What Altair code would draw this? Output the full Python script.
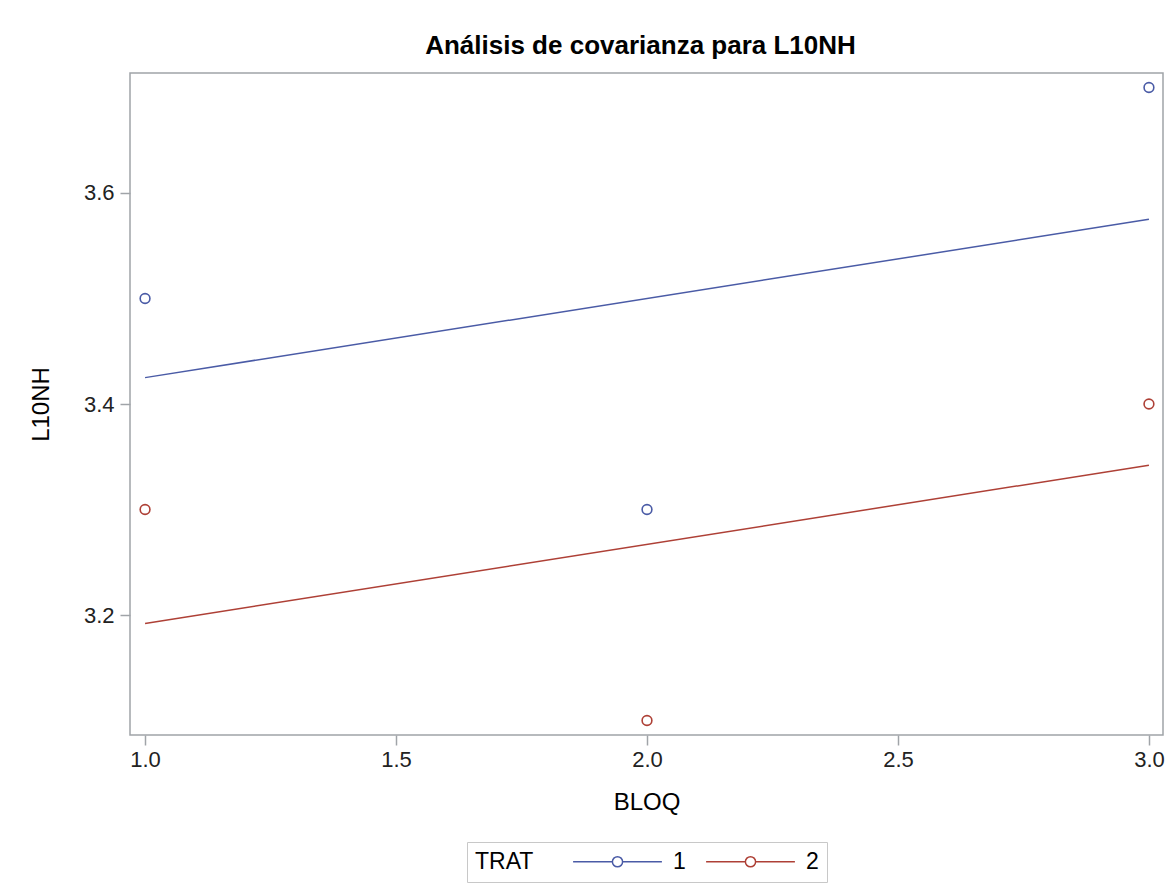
import altair as alt
import pandas as pd

# Observed values per block and treatment
bloq = [1, 2, 3]
trat_1 = [3.5, 3.3, 3.7]
trat_2 = [3.3, 3.1, 3.4]

# Fitted ANCOVA lines (common slope), evaluated at the block range ends
fit_bloq = [1, 3]
fit_1 = [3.425, 3.575]
fit_2 = [3.192, 3.342]

colors = ["#4A5BA6", "#AE4036"]
font = "Liberation Sans"

points = pd.DataFrame({
    "BLOQ": bloq * 2,
    "L10NH": trat_1 + trat_2,
    "TRAT": ["1"] * len(bloq) + ["2"] * len(bloq),
})
fits = pd.DataFrame({
    "BLOQ": fit_bloq * 2,
    "L10NH": fit_1 + fit_2,
    "TRAT": ["1"] * len(fit_bloq) + ["2"] * len(fit_bloq),
})

# legend glyph: a line segment with an open circle in the middle
legend_symbol = ("M-7.4,0H-0.85M0.85,0H7.4"
                 "M-0.85,0A0.85,0.85,0,1,0,0.85,0A0.85,0.85,0,1,0,-0.85,0")

x_enc = alt.X("BLOQ:Q",
              scale=alt.Scale(domain=[0.970, 3.028], nice=False, zero=False),
              axis=alt.Axis(values=[1, 1.5, 2, 2.5, 3], format=".1f",
                            title="BLOQ"))
y_enc = alt.Y("L10NH:Q",
              scale=alt.Scale(domain=[3.0863, 3.7137], nice=False, zero=False),
              axis=alt.Axis(values=[3.2, 3.4, 3.6], format=".1f",
                            title="L10NH"))
color_enc = alt.Color(
    "TRAT:N",
    scale=alt.Scale(domain=["1", "2"], range=colors),
    legend=alt.Legend(
        title="TRAT", orient="none", direction="horizontal",
        legendX=337, legendY=769,
        titleOrient="left", titleFontSize=23, titleFontWeight="normal",
        titleFont=font, titleColor="#000000", titlePadding=72,
        labelFontSize=23, labelFont=font, labelColor="#000000",
        symbolType=legend_symbol, symbolSize=144, symbolStrokeWidth=1.5,
        symbolFillColor="white", labelOffset=44, columnPadding=17,
        strokeColor="#c8c8c8", padding=8,
    ),
)

fit_lines = alt.Chart(fits).mark_line(strokeWidth=1.5).encode(
    x=x_enc, y=y_enc, color=color_enc, detail="TRAT:N"
)
dots = alt.Chart(points).mark_point(
    shape="circle", filled=False, size=95, strokeWidth=1.6, opacity=1
).encode(x=x_enc, y=y_enc, color=color_enc)

chart = (
    alt.layer(fit_lines, dots)
    .properties(
        width=1033, height=662,
        background="white",
        autosize=alt.AutoSizeParams(type="none"),
        padding={"left": 130, "top": 73, "right": 7, "bottom": 151},
        title=alt.TitleParams("Análisis de covarianza para L10NH",
                              font=font, fontSize=26, fontWeight="bold",
                              color="#000000", offset=14, dx=-6),
    )
    .configure_view(stroke="#a0a4a8", strokeWidth=1.5)
    .configure_axis(
        grid=False, domain=False,
        tickColor="#a0a4a8", tickSize=10, tickWidth=1.5,
        labelFont=font, labelFontSize=22, labelColor="#222222",
        titleFont=font, titleFontSize=24, titleFontWeight="normal",
        titleColor="#000000",
    )
    .configure_axisX(labelPadding=4, titlePadding=20)
    .configure_axisY(labelPadding=6, titlePadding=30)
)

chart.save("out.html", embed_options={"renderer": "svg", "actions": False})
